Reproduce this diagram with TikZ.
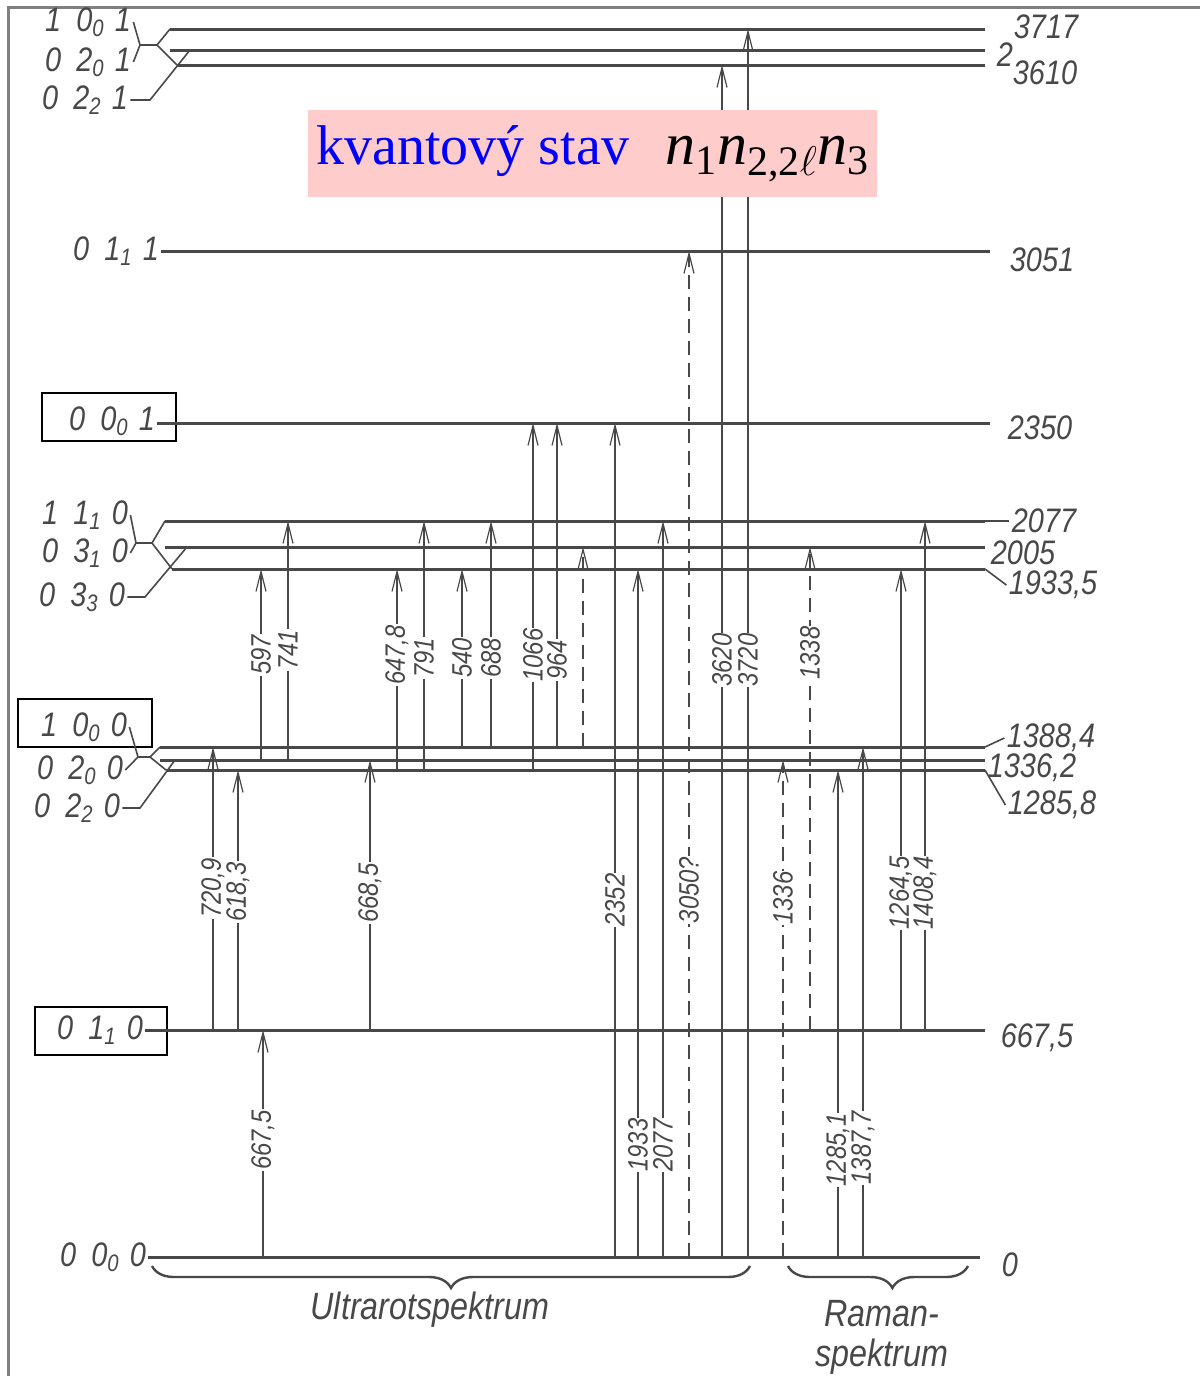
\documentclass[tikz,border=0pt]{standalone}
\usepackage{fontspec}
\setmainfont{Liberation Serif}
\newfontfamily\hand[FakeStretch=0.85]{Liberation Sans}
\usepackage{tikz}
\usetikzlibrary{positioning,arrows.meta,decorations.pathreplacing}
\definecolor{ink}{RGB}{72,72,72}
\definecolor{pinkbg}{RGB}{255,204,204}
\newcommand{\qs}[4]{#1\hspace{0.45em}#2\textsubscript{#3}\hspace{0.3em}#4}
\newcommand{\nq}[1]{\textit{n}\textsubscript{#1}}
\newcommand{\trans}[6][]{\draw[trn,#1] (#2,0 |- #3) -- (#2,0 |- #4);
  \node[lbl] (t#2) at (#2,#5) {#6};}
\tikzset{
  lvl/.style={draw=ink, line width=1.5pt},
  lead/.style={draw=ink, line width=0.8pt},
  trn/.style={draw=ink, line width=0.6pt, -{Straight Barb[length=10pt,width=5pt]}},
  dsh/.style={dash pattern=on 7pt off 4pt},
  lbl/.style={fill=white, rotate=90, inner sep=0.5pt, text=ink, font=\hand\itshape\fontsize{14}{14}\selectfont},
  st/.style={text=ink, inner sep=1pt, font=\hand\itshape\fontsize{17}{17}\selectfont},
  boxd/.style={draw=black, line width=0.8pt, minimum width=#1, minimum height=24pt},
  brc/.style={draw=ink, line width=1.2pt, decorate, decoration={brace, mirror, amplitude=11pt}},
  frm/.style={draw=gray, line width=1.5pt}
}
\begin{document}
\begin{tikzpicture}[x=0.5pt,y=-0.5pt]
\useasboundingbox (0,0) rectangle (1200,1376);
\draw[frm] (8,1376) -- (8,7) -- (1200,7);

\coordinate (lv0) at (0,1257);
\coordinate (lv667) at (0,1030);
\coordinate (f1t) at (0,747);
\coordinate (f1m) at (0,760);
\coordinate (f1b) at (0,770);
\coordinate (f2t) at (0,521);
\coordinate (f2m) at (0,547);
\coordinate (f2b) at (0,569);
\coordinate (lv2350) at (0,423);
\coordinate (lv3051) at (0,251);
\coordinate (f3t) at (0,29);
\coordinate (f3m) at (0,50);
\coordinate (f3b) at (0,65);

% single levels
\node[st] (s0000) at (103,1257) {\qs0000};
\draw[lvl] (s0000.east) -- (980,0 |- lv0);
\node[st] (s0110) at (100,1030) {\qs0110};
\node[boxd=66pt] (b0110) at (101,1031) {};
\draw[lvl] (s0110.east) -- (985,0 |- lv667);
\node[st] (s0001) at (112,421) {\qs0001};
\node[boxd=67pt] (b0001) at (109,417) {};
\draw[lvl] (s0001.east |- lv2350) -- (990,0 |- lv2350);
\node[st] (s0111) at (116,251) {\qs0111};
\draw[lvl] (s0111.east) -- (990,0 |- lv3051);

% triad 3610..3717
\node[st] (s1001) at (88,22) {\qs1001};
\node[st] (s0201) at (88,62) {\qs0201};
\node[st] (s0221) at (85,100) {\qs0221};
\draw[lvl] (170,0 |- f3t) -- (985,0 |- f3t);
\draw[lvl] (170,0 |- f3m) -- (985,0 |- f3m);
\draw[lvl] (177,0 |- f3b) -- (985,0 |- f3b);
\draw[lead] (s1001.east) -- (140,45) -- (157,45) -- (170,29) (157,45) -- (177,65);
\draw[lead] (s0201.east) -- (140,45);
\draw[lead] (s0221.east) -- (150,100) -- (190,50);

% triad 1933,5..2077
\node[st] (s1110) at (85,515) {\qs1110};
\node[st] (s0310) at (85,553) {\qs0310};
\node[st] (s0330) at (82,597) {\qs0330};
\draw[lvl] (165,0 |- f2t) -- (985,0 |- f2t);
\draw[lvl] (165,0 |- f2m) -- (985,0 |- f2m);
\draw[lvl] (172,0 |- f2b) -- (985,0 |- f2b);
\draw[lead] (s1110.east) -- (136,543) -- (152,543) -- (165,521) (152,543) -- (172,569);
\draw[lead] (s0310.east) -- (136,543);
\draw[lead] (s0330.east) -- (145,597) -- (187,547);

% triad 1285,8..1388,4
\node[st] (s1000) at (84,727) {\qs1000};
\node[boxd=67pt] (b1000) at (85,723) {};
\node[st] (s0200) at (80,770) {\qs0200};
\node[st] (s0220) at (77,808) {\qs0220};
\draw[lvl] (160,0 |- f1t) -- (985,0 |- f1t);
\draw[lvl] (160,0 |- f1m) -- (985,0 |- f1m);
\draw[lvl] (166,0 |- f1b) -- (985,0 |- f1b);
\draw[lead] (s1000.east) -- (138,757) -- (150,757) -- (160,747) (150,757) -- (166,770);
\draw[lead] (s0200.east) -- (138,757);
\draw[lead] (s0220.east) -- (140,808) -- (175,760);

% values
\node[st] (v3717) at (1046,27) {3717};
\node[st] (v2) at (1005,55) {2};
\node[st] (v3610) at (1045,73) {3610};
\node[st] (v3051) at (1042,260) {3051};
\node[st] (v2350) at (1040,428) {2350};
\node[st] (v2077) at (1044,521) {2077};
\node[st] (v2005) at (1023,553) {2005};
\node[st] (v1933) at (1053,585) {1933,5};
\node[st] (v1388) at (1051,738) {1388,4};
\node[st] (v1336) at (1032,768) {1336,2};
\node[st] (v1285) at (1052,805) {1285,8};
\node[st] (v667) at (1037,1038) {667,5};
\node[st] (v0) at (1010,1265) {0};
\draw[lead] (985,0 |- f2t) -- (v2077.west);
\draw[lead] (985,0 |- f2b) -- (v1933.west);
\draw[lead] (985,0 |- f1t) -- (v1388.west);
\draw[lead] (985,0 |- f1b) -- (v1285.west);

% transitions
\trans{263}{lv0}{lv667}{1140}{667,5}
\trans{213}{lv667}{f1t}{888}{720,9}
\trans{238}{lv667}{f1b}{892}{618,3}
\trans{370}{lv667}{f1m}{893}{668,5}
\trans{261}{f1m}{f2b}{655}{597}
\trans{288}{f1m}{f2t}{650}{741}
\trans{397}{f1b}{f2b}{655}{647,8}
\trans{424}{f1b}{f2t}{658}{791}
\trans{462}{f1t}{f2b}{658}{540}
\trans{491}{f1t}{f2t}{658}{688}
\trans{533}{f1b}{lv2350}{655}{1066}
\trans{557}{f1t}{lv2350}{660}{964}
\draw[trn,dsh] (583,0 |- f1t) -- (583,0 |- f2m);
\trans{615}{lv0}{lv2350}{900}{2352}
\trans{638}{lv0}{f2b}{1145}{1933}
\trans{663}{lv0}{f2t}{1145}{2077}
\trans[dsh]{689}{lv0}{lv3051}{890}{3050?}
\trans{722}{lv0}{f3b}{660}{3620}
\trans{748}{lv0}{f3t}{660}{3720}
\trans[dsh]{783}{lv0}{f1m}{898}{1336}
\trans[dsh]{810}{lv667}{f2m}{653}{1338}
\trans{838}{lv0}{f1b}{1150}{1285,1}
\trans{863}{lv0}{f1t}{1148}{1387,7}
\trans{901}{lv667}{f2b}{893}{1264,5}
\trans{925}{lv667}{f2t}{893}{1408,4}

% spectra
\draw[brc] (152,1266) -- (750,1266);
\draw[brc, decoration={aspect=0.58}] (788,1266) -- (968,1266);
\node[st, font=\hand\itshape\fontsize{19}{19}\selectfont] (ur) at (430,1310) {Ultrarotspektrum};
\node[st, align=center, font=\hand\itshape\fontsize{19}{20}\selectfont] (ra) at (882,1337) {Raman-\\spektrum};

% legend
\node[fill=pinkbg, minimum width=284.5pt, minimum height=43.5pt, inner sep=0pt] (qbox) at (592.5,153.5) {};
\node[anchor=base west, text=blue, inner sep=0pt, font=\fontsize{28}{30}\selectfont] (kv) at (316,164) {kvantový stav};
\node[anchor=base west, inner sep=0pt, font=\fontsize{30}{32}\selectfont] (nn) at (665,164) {\nq{1}\nq{2,2$\ell$}\nq{3}};
\end{tikzpicture}
\end{document}
